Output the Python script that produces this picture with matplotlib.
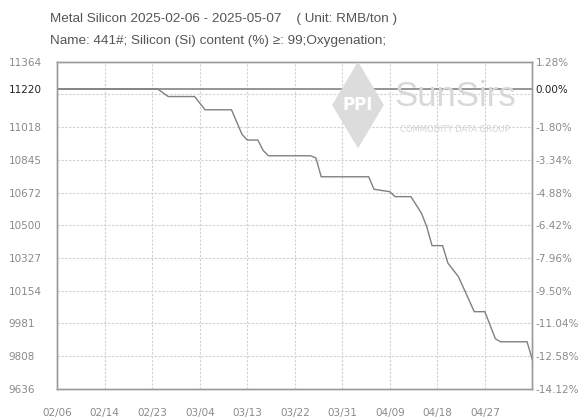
import matplotlib.pyplot as plt
import pandas as pd
from matplotlib.patches import Polygon

# price series (RMB/ton)
dates = ['2025-02-06', '2025-02-25', '2025-02-27', '2025-03-04', '2025-03-06',
         '2025-03-11', '2025-03-13', '2025-03-14', '2025-03-16', '2025-03-17',
         '2025-03-18', '2025-03-26', '2025-03-27', '2025-03-28', '2025-04-06',
         '2025-04-07', '2025-04-10', '2025-04-11', '2025-04-14', '2025-04-16',
         '2025-04-17', '2025-04-18', '2025-04-20', '2025-04-21', '2025-04-23',
         '2025-04-26', '2025-04-28', '2025-04-30', '2025-05-01', '2025-05-06',
         '2025-05-07']
prices = [11220, 11220, 11180, 11180, 11110,
          11110, 10980, 10950, 10950, 10895,
          10867, 10867, 10855, 10756, 10756,
          10690, 10677, 10651, 10651, 10563,
          10492, 10392, 10392, 10300, 10228,
          10043, 10043, 9900, 9884, 9884,
          9790]

base = 11220
y_min, y_max = 9636, 11364
left_ticks = [9636, 9808, 9981, 10154, 10327, 10500, 10672, 10845, 11018, 11220, 11364]
right_labels = ['-14.12%', '-12.58%', '-11.04%', '-9.50%', '-7.96%', '-6.42%',
                '-4.88%', '-3.34%', '-1.80%', '0.00%', '1.28%']
x_labels = ['02/06', '02/14', '02/23', '03/04', '03/13', '03/22', '03/31',
            '04/09', '04/18', '04/27']

start = pd.Timestamp('2025-02-06')
end = pd.Timestamp('2025-05-07')
x = [(pd.Timestamp(d) - start).days for d in dates]
total = (end - start).days

fig = plt.figure(figsize=(5.8, 4.19), dpi=100)
ax = fig.add_axes([0.0988, 0.0723, 0.819, 0.7804])

grid_col = '#d0d0d0'
axis_col = '#9a9a9a'
txt_col = '#8a8a8a'

ax.set_xlim(0, total)
ax.set_ylim(y_min, y_max)

# dashed grid at even divisions
step_y = (y_max - y_min) / 10
for i in range(1, 10):
    ax.axhline(y_min + i * step_y, color=grid_col, lw=0.8, ls=(0, (2, 1.5)), zorder=1)
step_x = total / 10
for i in range(1, 10):
    ax.axvline(i * step_x, color=grid_col, lw=0.8, ls=(0, (2, 1.5)), zorder=1)

ax.axhline(base, color='#8c8c8c', lw=1.3, zorder=2)
ax.plot(x, prices, color='#808080', lw=1.0, zorder=3)

ax.set_xticks([i * step_x for i in range(10)])
ax.set_xticklabels(x_labels)
ax.set_yticks(left_ticks)
ax.set_yticklabels([str(v) for v in left_ticks])
ax.tick_params(axis='both', length=0, labelsize=7.5, labelcolor=txt_col)
ax.tick_params(axis='x', pad=14)
ax.tick_params(axis='y', pad=35)
for lab in ax.get_yticklabels():
    lab.set_horizontalalignment('left')
ax.get_yticklabels()[9].set_color('#222222')

ax2 = ax.twinx()
ax2.set_ylim(y_min, y_max)
ax2.set_yticks(left_ticks)
ax2.set_yticklabels(right_labels)
ax2.tick_params(axis='y', length=0, labelsize=7.5, labelcolor=txt_col, pad=2.5)
ax2.get_yticklabels()[9].set_color('#222222')

for a in (ax, ax2):
    for s in a.spines.values():
        s.set_color(axis_col)
        s.set_linewidth(1.0)

# watermark
diamond = Polygon([[358 / 580, 1 - 63 / 419], [383 / 580, 1 - 105 / 419],
                   [358 / 580, 1 - 147 / 419], [333 / 580, 1 - 105 / 419]],
                  closed=True, transform=fig.transFigure, color='#dcdcdc', zorder=0)
fig.patches.append(diamond)
fig.text(358 / 580, 1 - 105 / 419, 'PPI', color='white', fontsize=12, fontweight='bold',
         ha='center', va='center')
fig.text(455 / 580, 1 - 97 / 419, 'SunSirs', color='#d8d8d8', fontsize=25,
         ha='center', va='center', family='Liberation Sans')
fig.text(455 / 580, 1 - 130 / 419, 'COMMODITY DATA GROUP', color='#d4d4d4', fontsize=6,
         ha='center', va='center')

fig.text(50 / 580, 1 - 19 / 419, 'Metal Silicon 2025-02-06 - 2025-05-07    ( Unit: RMB/ton )',
         fontsize=9.7, color='#555555', va='center', family='Liberation Sans')
fig.text(50 / 580, 1 - 41 / 419, 'Name: 441#; Silicon (Si) content (%) \u2265: 99;Oxygenation;',
         fontsize=9.7, color='#555555', va='center', family=['Liberation Sans', 'DejaVu Sans'])

fig.savefig('out.png', dpi=100)
